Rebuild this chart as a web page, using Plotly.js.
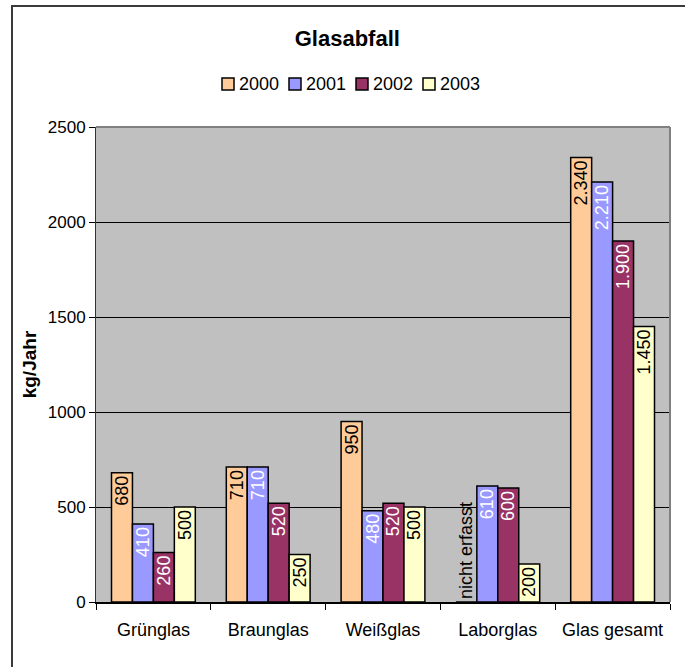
<!DOCTYPE html>
<html>
<head>
<meta charset="utf-8">
<script src="https://cdn.plot.ly/plotly-3.0.1.min.js"></script>
<style>
  html, body { margin: 0; padding: 0; background: #fff; }
  #wrap { position: relative; width: 685px; height: 667px; overflow: hidden; }
  #chart { position: absolute; left: 0; top: 0; width: 685px; height: 667px; }
  #frame { position: absolute; left: 11px; top: 5px; width: 700px; height: 700px;
           border: 2px solid #3a3a3a; box-sizing: border-box; pointer-events: none; }
</style>
</head>
<body>
<div id="wrap">
  <div id="chart"></div>
  <div id="frame"></div>
</div>
<script>
// ---- data ----
const categories = ["Grünglas", "Braunglas", "Weißglas", "Laborglas", "Glas gesamt"];
const years = ["2000", "2001", "2002", "2003"];
const values2000 = [680, 710, 950, null, 2340];
const values2001 = [410, 710, 480, 610, 2210];
const values2002 = [260, 520, 520, 600, 1900];
const values2003 = [500, 250, 500, 200, 1450];
const missingLabel = "nicht erfasst";
const yTicks = [0, 500, 1000, 1500, 2000, 2500];

// ---- styles ----
const colors = ["#FFCC99", "#9999FF", "#993366", "#FFFFCC"];
const labelColors = ["#000000", "#FFFFFF", "#FFFFFF", "#000000"];
const FONT = "Liberation Sans, Arial, sans-serif";

// plot area geometry (px) used to place the hand-drawn legend
const M = { l: 96, r: 15, t: 127, b: 65 };
const W = 685, H = 667;
const PW = W - M.l - M.r, PH = H - M.t - M.b;
const px2x = px => (px - M.l) / PW;
const py2y = py => (H - M.b - py) / PH;

function fmt(v) {
  const s = String(Math.round(v));
  return s.replace(/\B(?=(\d{3})+(?!\d))/g, ".");
}

const series = [values2000, values2001, values2002, values2003];
const traces = series.map((vals, i) => ({
  type: "bar",
  name: years[i],
  x: categories,
  y: vals.map(v => (v === null ? 0 : v)),
  text: vals.map(v => (v === null ? missingLabel : fmt(v))),
  textposition: vals.map(v => (v === null ? "outside" : "inside")),
  insidetextanchor: "end",
  textangle: -90,
  constraintext: "none",
  cliponaxis: false,
  insidetextfont: { family: FONT, size: 18, color: labelColors[i] },
  outsidetextfont: { family: FONT, size: 18, color: "#000000" },
  marker: { color: colors[i], line: { color: "#000000", width: 1.5 } },
  hoverinfo: "skip",
  showlegend: false
}));

// custom legend (square + label), matching the compact spreadsheet legend
const legStart = 222, legStep = 67, sq = 12, legCY = 84;
const shapes = [
  { type: "line", xref: "paper", yref: "paper", x0: 0, x1: 1, y0: 1, y1: 1,
    line: { color: "#808080", width: 2 } },
  { type: "line", xref: "paper", yref: "paper", x0: 1, x1: 1, y0: 0, y1: 1,
    line: { color: "#808080", width: 2 } }
];
const annotations = [];
years.forEach((yr, i) => {
  const left = legStart + i * legStep;
  shapes.push({
    type: "rect", xref: "paper", yref: "paper",
    x0: px2x(left), x1: px2x(left + sq),
    y0: py2y(legCY + sq / 2), y1: py2y(legCY - sq / 2),
    fillcolor: colors[i], line: { color: "#000", width: 1.5 }
  });
  annotations.push({
    xref: "paper", yref: "paper",
    x: px2x(left + sq + 3), y: py2y(legCY),
    xanchor: "left", yanchor: "middle",
    text: yr, showarrow: false,
    font: { family: FONT, size: 18, color: "#000" }
  });
});

const layout = {
  width: W,
  height: H,
  margin: M,
  paper_bgcolor: "#FFFFFF",
  plot_bgcolor: "#C0C0C0",
  font: { family: FONT, size: 16, color: "#000" },
  separators: ",.",
  barmode: "group",
  bargap: 0.27,
  bargroupgap: 0,
  showlegend: false,
  title: {
    text: "<b>Glasabfall</b>",
    font: { family: FONT, size: 22, color: "#000" },
    xref: "container", x: 0.507, xanchor: "center",
    yref: "container", y: 1 - 38 / 667, yanchor: "middle"
  },
  xaxis: {
    type: "category",
    tickson: "boundaries",
    ticks: "outside",
    ticklen: 6,
    tickcolor: "#000",
    showline: true,
    linecolor: "#000",
    linewidth: 1.5,
    showgrid: false,
    ticklabelstandoff: 11,
    tickfont: { family: FONT, size: 18, color: "#000" },
    fixedrange: true
  },
  yaxis: {
    range: [0, 2500],
    tickvals: yTicks,
    ticktext: yTicks.map(String),
    ticks: "outside",
    ticklen: 6,
    tickcolor: "#000",
    showline: true,
    linecolor: "#333",
    linewidth: 1,
    showgrid: true,
    gridcolor: "#000",
    gridwidth: 1,
    zeroline: false,
    tickfont: { family: FONT, size: 17, color: "#000" },
    title: { text: "<b>kg/Jahr</b>", font: { family: FONT, size: 19, color: "#000" }, standoff: 6 },
    fixedrange: true
  },
  shapes: shapes,
  annotations: annotations
};

Plotly.newPlot("chart", traces, layout, { displayModeBar: false, staticPlot: true });
</script>
</body>
</html>
